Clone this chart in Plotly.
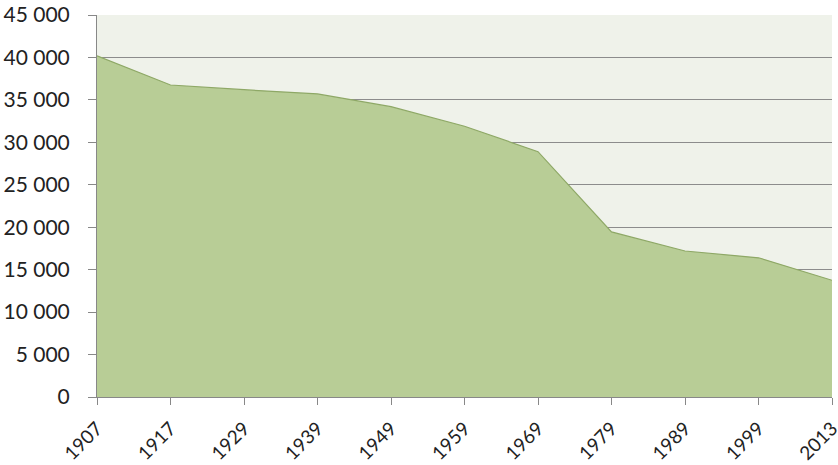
import plotly.graph_objects as go

years = ["1907", "1917", "1929", "1939", "1949", "1959", "1969", "1979", "1989", "1999", "2013"]
population = [40200, 36750, 36200, 35700, 34200, 31900, 28900, 19450, 17200, 16400, 13750]
y_tick_vals = [0, 5000, 10000, 15000, 20000, 25000, 30000, 35000, 40000, 45000]
y_tick_text = ["0", "5 000", "10 000", "15 000", "20 000", "25 000", "30 000", "35 000", "40 000", "45 000"]

fig = go.Figure()
fig.add_trace(go.Scatter(
    x=years, y=population, mode="lines", fill="tozeroy",
    fillcolor="#B8CD96", line=dict(color="#8EA866", width=1.2),
    hoverinfo="x+y",
))

fig.update_layout(
    width=838, height=465,
    margin=dict(l=97, r=6, t=15, b=68),
    paper_bgcolor="white",
    plot_bgcolor="#EFF2EA",
    showlegend=False,
    font=dict(family="Lato, Carlito, sans-serif", size=20, color="#222222"),
)
fig.update_xaxes(
    type="category", range=[0, 10], automargin=False,
    showgrid=False, showline=True, linecolor="#888888", linewidth=1,
    ticks="outside", ticklen=7, tickcolor="#888888",
    tickangle=-45, tickfont=dict(size=19), ticklabelstandoff=5,
    zeroline=False,
)
fig.update_yaxes(
    range=[0, 45000], tickvals=y_tick_vals, ticktext=y_tick_text, automargin=False,
    showgrid=True, gridcolor="#8C8C8C", gridwidth=1,
    showline=True, linecolor="#888888", linewidth=1,
    ticks="outside", ticklen=8, tickcolor="#888888", ticklabelstandoff=14,
    zeroline=False, tickfont=dict(size=21),
)

fig.write_html(
    "out.html",
    config={"displayModeBar": False},
    post_script="document.body.style.margin='0';document.body.style.padding='0';",
)
